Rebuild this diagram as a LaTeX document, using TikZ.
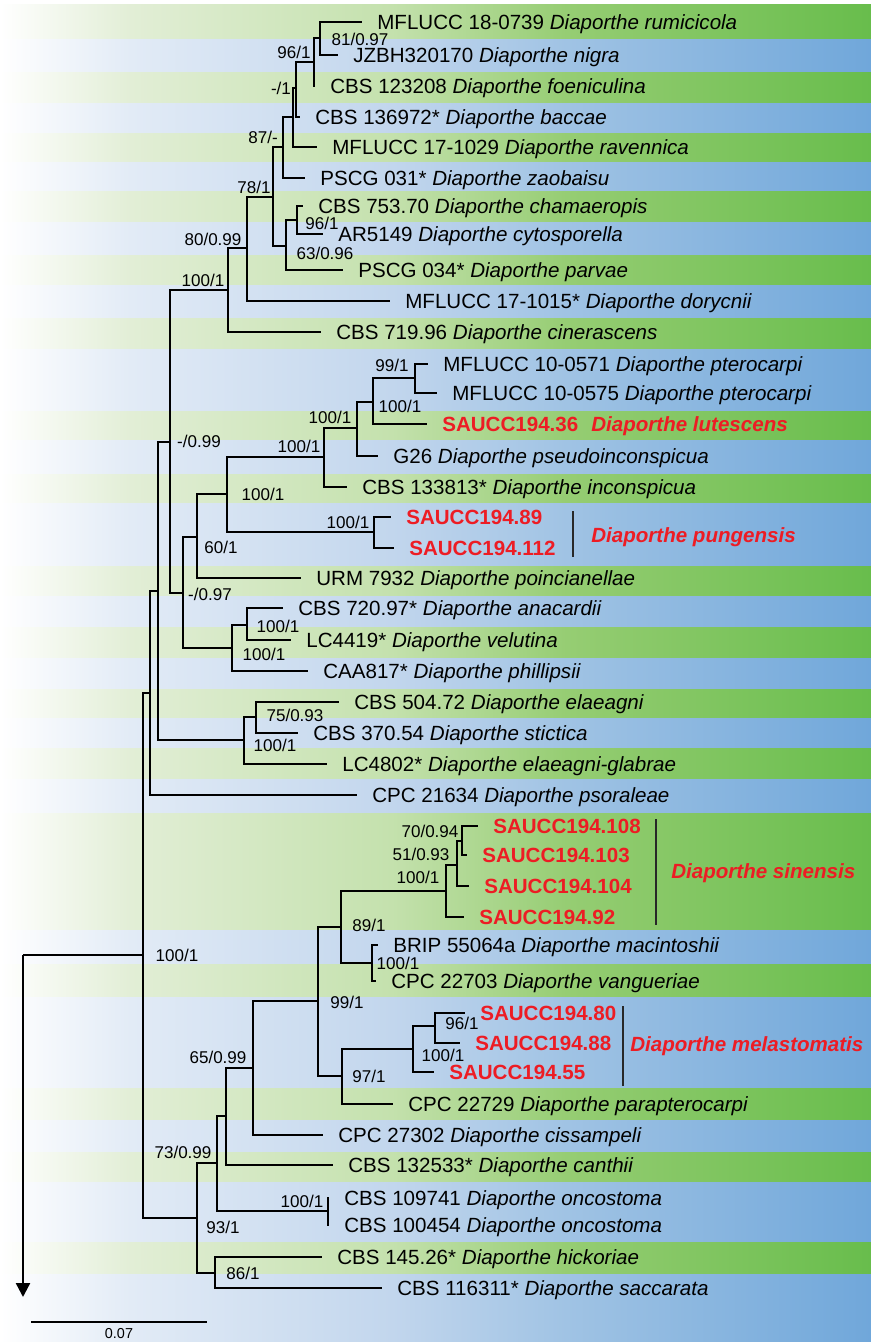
\documentclass[tikz,border=0pt]{standalone}
\usepackage{fontspec}
\setmainfont{Liberation Sans}
\usetikzlibrary{arrows.meta,positioning}

\definecolor{sred}{RGB}{237,28,36}
\definecolor{barcol}{RGB}{40,40,40}
\definecolor{gpale}{RGB}{226,238,214}
\definecolor{gmid}{RGB}{196,225,173}
\definecolor{gsat}{RGB}{150,205,115}
\definecolor{gdark}{RGB}{104,189,76}
\definecolor{bpale}{RGB}{226,235,246}
\definecolor{bmid}{RGB}{194,214,237}
\definecolor{bsat}{RGB}{160,195,228}
\definecolor{bdark}{RGB}{112,167,218}

\pgfdeclarehorizontalshading{greenrow}{100bp}{color(0bp)=(white); color(25bp)=(white); color(32.5bp)=(gpale); color(47.5bp)=(gmid); color(57.5bp)=(gsat); color(75bp)=(gdark); color(100bp)=(gdark)}
\pgfdeclarehorizontalshading{bluerow}{100bp}{color(0bp)=(white); color(25bp)=(white); color(32.5bp)=(bpale); color(47.5bp)=(bmid); color(57.5bp)=(bsat); color(75bp)=(bdark); color(100bp)=(bdark)}

\newcommand{\dia}[1]{\textit{Diaporthe #1}}

\begin{document}
\begin{tikzpicture}[x=0.02cm, y=-0.02cm,
  branch/.style={line width=1.35pt},
  taxon/.style={anchor=west, inner xsep=0.3cm, inner ysep=0pt, text height=8.4pt, text depth=0pt, font=\fontsize{11.7}{14}\selectfont},
  newsp/.style={text=sred, font=\fontsize{11.7}{14}\selectfont\bfseries},
  bs/.style={inner sep=0pt, text height=6.9pt, text depth=0pt, font=\fontsize{9.7}{11}\selectfont},
  clade/.style={anchor=west, inner sep=0pt, text height=8.4pt, text depth=0pt, text=sred, font=\fontsize{11.7}{14}\selectfont\bfseries\itshape},
  cladebar/.style={line width=1.5pt, draw=barcol}]
  %
  \useasboundingbox (0,0) rectangle (871,1342);
  \fill[white] (0,0) rectangle (871,1342);
  % row bands
  \foreach \ya/\yb/\sh in {4/39/greenrow, 39/72/bluerow, 72/103/greenrow, 103/133/bluerow,
      133/162/greenrow, 162/191/bluerow, 191/222/greenrow, 222/255/bluerow, 255/285/greenrow,
      285/318/bluerow, 318/349/greenrow, 349/411/bluerow, 411/440/greenrow, 440/474/bluerow,
      474/503/greenrow, 503/566/bluerow, 566/596/greenrow, 596/627/bluerow, 627/658/greenrow,
      658/689/bluerow, 689/718/greenrow, 718/748/bluerow, 748/779/greenrow, 779/813/bluerow,
      813/930/greenrow, 930/964/bluerow, 964/997/greenrow, 997/1088/bluerow, 1088/1120/greenrow,
      1120/1152/bluerow, 1152/1182/greenrow, 1182/1242/bluerow, 1242/1274/greenrow, 1274/1342/bluerow}
    \shade[shading=\sh] (0,\ya) rectangle (871,\yb);
  %
  % taxa
  \node[taxon] (t1) at (362,22) {MFLUCC 18-0739 \dia{rumicicola}};
  \node[taxon] (t2) at (338,55) {JZBH320170 \dia{nigra}};
  \node[taxon] (t3) at (315,86) {CBS 123208 \dia{foeniculina}};
  \node[taxon] (t4) at (300,117) {CBS 136972* \dia{baccae}};
  \node[taxon] (t5) at (317,147) {MFLUCC 17-1029 \dia{ravennica}};
  \node[taxon] (t6) at (305,178) {PSCG 031* \dia{zaobaisu}};
  \node[taxon] (t7) at (303,206) {CBS 753.70 \dia{chamaeropis}};
  \node[taxon] (t8) at (323,234) {AR5149 \dia{cytosporella}};
  \node[taxon] (t9) at (343,270) {PSCG 034* \dia{parvae}};
  \node[taxon] (t10) at (390,301) {MFLUCC 17-1015* \dia{dorycnii}};
  \node[taxon] (t11) at (321,332) {CBS 719.96 \dia{cinerascens}};
  \node[taxon] (t12) at (428,364) {MFLUCC 10-0571 \dia{pterocarpi}};
  \node[taxon] (t13) at (437,393) {MFLUCC 10-0575 \dia{pterocarpi}};
  \node[taxon, newsp] (t14) at (427,424) {SAUCC194.36\hspace{0.26cm}\textit{Diaporthe lutescens}};
  \node[taxon] (t15) at (378,456) {G26 \dia{pseudoinconspicua}};
  \node[taxon] (t16) at (347,487) {CBS 133813* \dia{inconspicua}};
  \node[taxon, newsp] (t17) at (391,517) {SAUCC194.89};
  \node[taxon, newsp] (t18) at (394,548) {SAUCC194.112};
  \node[taxon] (t19) at (301,578) {URM 7932 \dia{poincianellae}};
  \node[taxon] (t20) at (283,608) {CBS 720.97* \dia{anacardii}};
  \node[taxon] (t21) at (291,640) {LC4419* \dia{velutina}};
  \node[taxon] (t22) at (308,671) {CAA817* \dia{phillipsii}};
  \node[taxon] (t23) at (339,702) {CBS 504.72 \dia{elaeagni}};
  \node[taxon] (t24) at (298,733) {CBS 370.54 \dia{stictica}};
  \node[taxon] (t25) at (327,764) {LC4802* \dia{elaeagni-glabrae}};
  \node[taxon] (t26) at (357,795) {CPC 21634 \dia{psoraleae}};
  \node[taxon, newsp] (t27) at (478,826) {SAUCC194.108};
  \node[taxon, newsp] (t28) at (467,855) {SAUCC194.103};
  \node[taxon, newsp] (t29) at (469,886) {SAUCC194.104};
  \node[taxon, newsp] (t30) at (464,917) {SAUCC194.92};
  \node[taxon] (t31) at (378,945) {BRIP 55064a \dia{macintoshii}};
  \node[taxon] (t32) at (376,981) {CPC 22703 \dia{vangueriae}};
  \node[taxon, newsp] (t33) at (465,1013) {SAUCC194.80};
  \node[taxon, newsp] (t34) at (460,1043) {SAUCC194.88};
  \node[taxon, newsp] (t35) at (434,1072) {SAUCC194.55};
  \node[taxon] (t36) at (393,1104) {CPC 22729 \dia{parapterocarpi}};
  \node[taxon] (t37) at (323,1135) {CPC 27302 \dia{cissampeli}};
  \node[taxon] (t38) at (333,1165) {CBS 132533* \dia{canthii}};
  \node[taxon] (t39) at (329,1198) {CBS 109741 \dia{oncostoma}};
  \node[taxon] (t40) at (329,1225) {CBS 100454 \dia{oncostoma}};
  \node[taxon] (t41) at (322,1257) {CBS 145.26* \dia{hickoriae}};
  \node[taxon] (t42) at (382,1288) {CBS 116311* \dia{saccarata}};
  %
  % internal nodes
  \coordinate (na) at (320,38);   \coordinate (nb) at (314,62);
  \coordinate (nc) at (296,88);   \coordinate (nd) at (293,117);
  \coordinate (ne) at (283,147);  \coordinate (nf) at (273,197);
  \coordinate (ng) at (286,246);  \coordinate (nh) at (297,220);
  \coordinate (ni) at (247,248);  \coordinate (nj) at (228,290);
  \coordinate (nk) at (170,442);  \coordinate (nl) at (183,593);
  \coordinate (nm) at (197,537);  \coordinate (nn) at (227,494);
  \coordinate (no) at (324,457);  \coordinate (np) at (357,428);
  \coordinate (nq) at (373,402);  \coordinate (nr) at (415,378);
  \coordinate (ns) at (374,532);  \coordinate (nt) at (232,648);
  \coordinate (nu) at (247,625);  \coordinate (nv) at (244,740);
  \coordinate (nw) at (256,717);  \coordinate (nx) at (158,591);
  \coordinate (ny) at (150,693);  \coordinate (nz) at (143,955);
  \coordinate (ns1) at (462,841); \coordinate (ns2) at (457,865);
  \coordinate (ns3) at (446,891); \coordinate (nmac) at (372,963);
  \coordinate (n89) at (341,927); \coordinate (n96m) at (435,1026);
  \coordinate (nmel) at (413,1049); \coordinate (n97) at (342,1076);
  \coordinate (n99) at (318,1001); \coordinate (n65) at (253,1068);
  \coordinate (ncan) at (226,1116); \coordinate (nonc) at (328,1211);
  \coordinate (n73) at (217,1163); \coordinate (n86) at (215,1273);
  \coordinate (n93) at (197,1218);
  \coordinate (root) at (23,955);
  \coordinate (rootend) at (23,1297);
  %
  % branches
  \foreach \p/\c in {na/t1, na/t2, nb/na, nb/t3, nc/nb, nc/t4, nd/nc, nd/t5, ne/nd, ne/t6,
      nh/t7, nh/t8, ng/nh, ng/t9, nf/ne, nf/ng, ni/nf, ni/t10, nj/ni, nj/t11,
      nr/t12, nr/t13, nq/nr, nq/t14, np/nq, np/t15, no/np, no/t16, ns/t17, ns/t18,
      nn/no, nn/ns, nm/nn, nm/t19, nu/t20, nu/t21, nt/nu, nt/t22, nl/nm, nl/nt,
      nk/nj, nk/nl, nw/t23, nw/t24, nv/nw, nv/t25, nx/nk, nx/nv, ny/nx, ny/t26,
      ns1/t27, ns1/t28, ns2/ns1, ns2/t29, ns3/ns2, ns3/t30, nmac/t31, nmac/t32,
      n89/ns3, n89/nmac, n96m/t33, n96m/t34, nmel/n96m, nmel/t35, n97/nmel, n97/t36,
      n99/n89, n99/n97, n65/n99, n65/t37, ncan/n65, ncan/t38, nonc/t39, nonc/t40,
      n73/ncan, n73/nonc, n86/t41, n86/t42, n93/n73, n93/n86, nz/ny, nz/n93}
    \draw[branch] (\p) |- (\c);
  \draw[branch] (root) -- (nz);
  \draw[branch, -{Triangle[width=0.28cm, length=0.28cm]}] (root) -- (rootend);
  %
  % support values
  \node[bs] (b1) at (360,39) {81/0.97};
  \node[bs] (b2) at (294,52) {96/1};
  \node[bs] (b3) at (281,88) {-/1};
  \node[bs] (b4) at (263,137) {87/-};
  \node[bs] (b5) at (254,187) {78/1};
  \node[bs] (b6) at (322,223) {96/1};
  \node[bs] (b7) at (325,253) {63/0.96};
  \node[bs] (b8) at (213,239) {80/0.99};
  \node[bs] (b9) at (203,280) {100/1};
  \node[bs] (b10) at (199,441) {-/0.99};
  \node[bs] (b11) at (392,365) {99/1};
  \node[bs] (b12) at (400,406) {100/1};
  \node[bs] (b13) at (330,417) {100/1};
  \node[bs] (b14) at (299,446) {100/1};
  \node[bs] (b15) at (263,494) {100/1};
  \node[bs] (b16) at (348,522) {100/1};
  \node[bs] (b17) at (221,547) {60/1};
  \node[bs] (b18) at (210,594) {-/0.97};
  \node[bs] (b19) at (278,626) {100/1};
  \node[bs] (b20) at (264,654) {100/1};
  \node[bs] (b21) at (295,715) {75/0.93};
  \node[bs] (b22) at (275,745) {100/1};
  \node[bs] (b23) at (177,955) {100/1};
  \node[bs] (b24) at (430,831) {70/0.94};
  \node[bs] (b25) at (421,854) {51/0.93};
  \node[bs] (b26) at (418,877) {100/1};
  \node[bs] (b27) at (369,925) {89/1};
  \node[bs] (b28) at (398,963) {100/1};
  \node[bs] (b29) at (347,1002) {99/1};
  \node[bs] (b30) at (462,1023) {96/1};
  \node[bs] (b31) at (443,1055) {100/1};
  \node[bs] (b32) at (369,1076) {97/1};
  \node[bs] (b33) at (218,1057) {65/0.99};
  \node[bs] (b34) at (183,1152) {73/0.99};
  \node[bs] (b35) at (302,1201) {100/1};
  \node[bs] (b36) at (223,1227) {93/1};
  \node[bs] (b37) at (243,1273) {86/1};
  %
  % species bars
  \coordinate (pun1) at (573,511);  \coordinate (pun2) at (573,557);
  \coordinate (sin1) at (656,819);  \coordinate (sin2) at (656,925);
  \coordinate (mel1) at (623,1006); \coordinate (mel2) at (623,1086);
  \draw[cladebar] (pun1) -- (pun2);
  \draw[cladebar] (sin1) -- (sin2);
  \draw[cladebar] (mel1) -- (mel2);
  \node[clade] (lpun) at (591,535) {Diaporthe pungensis};
  \node[clade] (lsin) at (671,871) {Diaporthe sinensis};
  \node[clade] (lmel) at (630,1044) {Diaporthe melastomatis};
  %
  % scale
  \coordinate (sb1) at (31,1322);
  \coordinate (sb2) at (207,1322);
  \draw[branch] (sb1) -- (sb2);
  \node[font=\fontsize{8.2}{9}\selectfont, inner sep=0pt] (sblab) at (119,1334) {0.07};
  %
\end{tikzpicture}
\end{document}
